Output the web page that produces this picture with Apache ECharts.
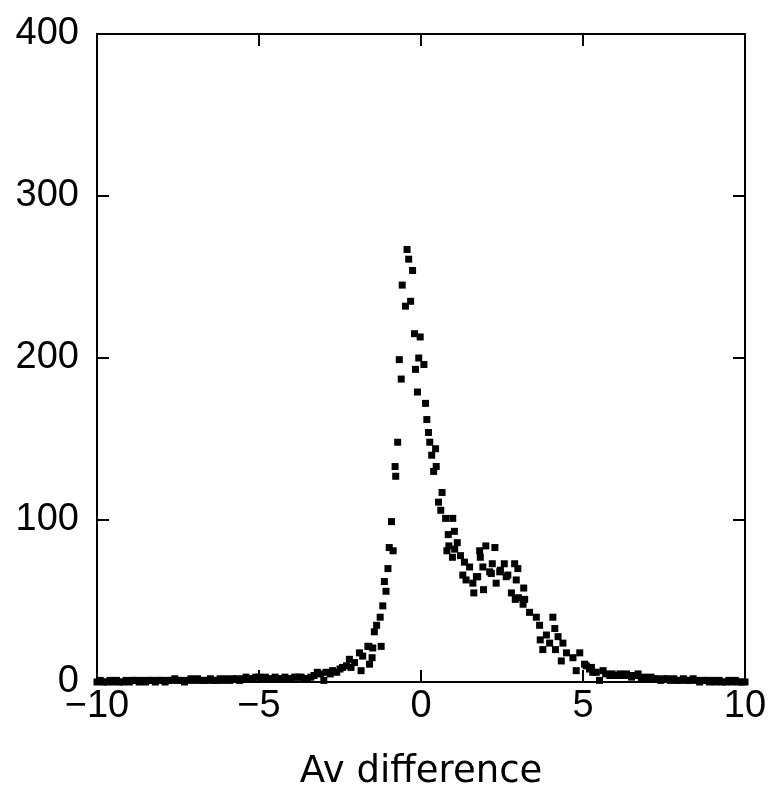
<!DOCTYPE html>
<html>
<head>
<meta charset="utf-8">
<script src="https://cdn.jsdelivr.net/npm/echarts@6/dist/echarts.min.js"></script>
<style>
  html, body { margin: 0; padding: 0; background: #fff; }
  #chart { width: 773px; height: 797px; }
</style>
</head>
<body>
<div id="chart"></div>
<script>
// Av difference values (bin positions)
const diffValues = [
  -10.0, -9.9, -9.8, -9.7, -9.6, -9.5, -9.4, -9.3, -9.2, -9.1,
  -9.0, -8.9, -8.8, -8.7, -8.6, -8.5, -8.4, -8.3, -8.2, -8.1,
  -8.0, -7.9, -7.8, -7.7, -7.6, -7.5, -7.4, -7.3, -7.2, -7.1,
  -7.0, -6.9, -6.8, -6.7, -6.6, -6.5, -6.4, -6.3, -6.2, -6.1,
  -6.0, -5.9, -5.8, -5.7, -5.6, -5.5, -5.4, -5.3, -5.2, -5.1,
  -5.0, -4.9, -4.8, -4.7, -4.6, -4.5, -4.4, -4.3, -4.2, -4.1,
  -4.0, -3.9, -3.8, -3.7, -3.6, -3.5, -3.4, -3.3, -3.2, -3.1,
  -3.0, -2.93, -2.8, -2.73, -2.6, -2.5, -2.42, -2.3, -2.21, -2.16,
  -2.05, -1.9, -1.85, -1.8, -1.64, -1.61, -1.59, -1.51, -1.49, -1.44,
  -1.37, -1.26, -1.23, -1.18, -1.13, -1.08, -1.02, -0.98, -0.91, -0.86,
  -0.8, -0.78, -0.72, -0.67, -0.61, -0.58, -0.48, -0.43, -0.38, -0.32,
  -0.26, -0.2, -0.17, -0.11, -0.07, -0.025, 0.09, 0.14, 0.18, 0.23,
  0.27, 0.33, 0.39, 0.45, 0.47, 0.54, 0.61, 0.65, 0.76, 0.8,
  0.84, 0.86, 0.97, 0.98, 1.03, 1.04, 1.12, 1.22, 1.29, 1.34,
  1.39, 1.5, 1.6, 1.63, 1.71, 1.75, 1.81, 1.83, 1.91, 1.93,
  2.0, 2.12, 2.17, 2.2, 2.28, 2.32, 2.43, 2.45, 2.57, 2.63,
  2.68, 2.79, 2.89, 2.91, 2.94, 2.99, 3.01, 3.15, 3.17, 3.2,
  3.35, 3.56, 3.66, 3.68, 3.76, 3.87, 3.97, 4.07, 4.13, 4.15,
  4.23, 4.33, 4.38, 4.49, 4.69, 4.79, 4.9, 5.05, 5.1, 5.2,
  5.26, 5.3, 5.41, 5.51, 5.62, 5.7, 5.83, 5.9, 6.0, 6.14,
  6.2, 6.34, 6.4, 6.5, 6.6, 6.7, 6.8, 6.9,
  7.0, 7.1, 7.2, 7.3, 7.4, 7.5, 7.6, 7.7, 7.8, 7.9,
  8.0, 8.1, 8.2, 8.3, 8.4, 8.5, 8.6, 8.7, 8.8, 8.9,
  9.0, 9.1, 9.2, 9.3, 9.4, 9.5, 9.6, 9.7, 9.8, 9.9, 10.0
];
// counts at each position
const counts = [
  0, 1, 0, 0, 1, 0, 1, 0, 0, 1,
  0, 1, 1, 0, 1, 0, 1, 1, 0, 1,
  1, 0, 1, 1, 2, 1, 1, 0, 1, 2,
  1, 2, 1, 1, 1, 2, 1, 1, 2, 1,
  2, 1, 2, 2, 1, 2, 3, 2, 2, 3,
  3, 2, 3, 2, 2, 3, 2, 2, 3, 2,
  2, 3, 3, 3, 2, 2, 3, 4, 6, 5,
  1, 6, 5, 7, 6, 8, 9, 10, 14, 9,
  12, 18, 7, 16, 22, 22, 11, 15, 21, 31,
  35, 40, 22, 47, 62, 56, 70, 83, 99, 81,
  133, 127, 148, 199, 187, 245, 232, 267, 261, 235,
  254, 215, 193, 179, 200, 213, 196, 172, 162, 154,
  148, 140, 130, 144, 133, 111, 106, 117, 101, 81,
  91, 84, 77, 101, 93, 82, 86, 78, 66, 74,
  63, 71, 61, 55, 65, 65, 81, 77, 71, 57,
  84, 68, 67, 73, 83, 61, 68, 69, 73, 65,
  66, 55, 73, 51, 63, 70, 52, 48, 58, 51,
  43, 40, 35, 26, 20, 29, 24, 40, 33, 20,
  28, 13, 24, 18, 15, 7, 18, 11, 10, 8,
  9, 6, 6, 1, 7, 5, 4, 5, 4, 5,
  4, 5, 4, 3, 4, 5, 2, 3,
  2, 3, 2, 2, 1, 2, 2, 1, 2, 1,
  1, 2, 1, 1, 2, 1, 0, 1, 1, 0,
  1, 0, 1, 0, 0, 1, 0, 1, 0, 0, 0
];
const xTicks = [-10, -5, 0, 5, 10];
const yTicks = [0, 100, 200, 300, 400];

let points = diffValues.map((x, i) => [x, counts[i]]);

let myChart = echarts.init(document.getElementById('chart'));
let font = 'Liberation Sans';
let fmt = v => String(v).replace('-', '\u2212');
let lineStyle = { color: '#000', width: 2 };
let option = {
  animation: false,
  grid: { left: 97, right: 28, top: 34, bottom: 115 },
  xAxis: [
    {
      type: 'value',
      min: xTicks[0], max: xTicks[xTicks.length - 1], interval: 5,
      position: 'bottom',
      name: 'Av difference',
      nameLocation: 'middle',
      nameGap: 72,
      nameTextStyle: { fontFamily: 'DejaVu Sans', fontSize: 37, color: '#000' },
      axisLine: { onZero: false, lineStyle: lineStyle },
      axisTick: { inside: true, length: 12, lineStyle: lineStyle },
      axisLabel: { fontFamily: font, fontSize: 38, color: '#000', margin: 6, formatter: fmt },
      splitLine: { show: false }
    },
    {
      type: 'value',
      min: xTicks[0], max: xTicks[xTicks.length - 1], interval: 5,
      position: 'top',
      axisLine: { show: true, onZero: false, lineStyle: lineStyle },
      axisTick: { show: true, inside: true, length: 12, lineStyle: lineStyle },
      axisLabel: { show: false },
      splitLine: { show: false }
    }
  ],
  yAxis: [
    {
      type: 'value',
      min: yTicks[0], max: yTicks[yTicks.length - 1], interval: 100,
      position: 'left',
      axisLine: { show: true, onZero: false, lineStyle: lineStyle },
      axisTick: { show: true, inside: true, length: 12, lineStyle: lineStyle },
      axisLabel: { fontFamily: font, fontSize: 38, color: '#000', margin: 18, formatter: fmt },
      splitLine: { show: false }
    },
    {
      type: 'value',
      min: yTicks[0], max: yTicks[yTicks.length - 1], interval: 100,
      position: 'right',
      axisLine: { show: true, onZero: false, lineStyle: lineStyle },
      axisTick: { show: true, inside: true, length: 12, lineStyle: lineStyle },
      axisLabel: { show: false },
      splitLine: { show: false }
    }
  ],
  series: [{
    type: 'scatter',
    data: points,
    symbol: 'rect',
    symbolSize: 7,
    clip: false,
    itemStyle: { color: '#000', opacity: 1 }
  }]
};
myChart.setOption(option, true);
</script>
</body>
</html>
